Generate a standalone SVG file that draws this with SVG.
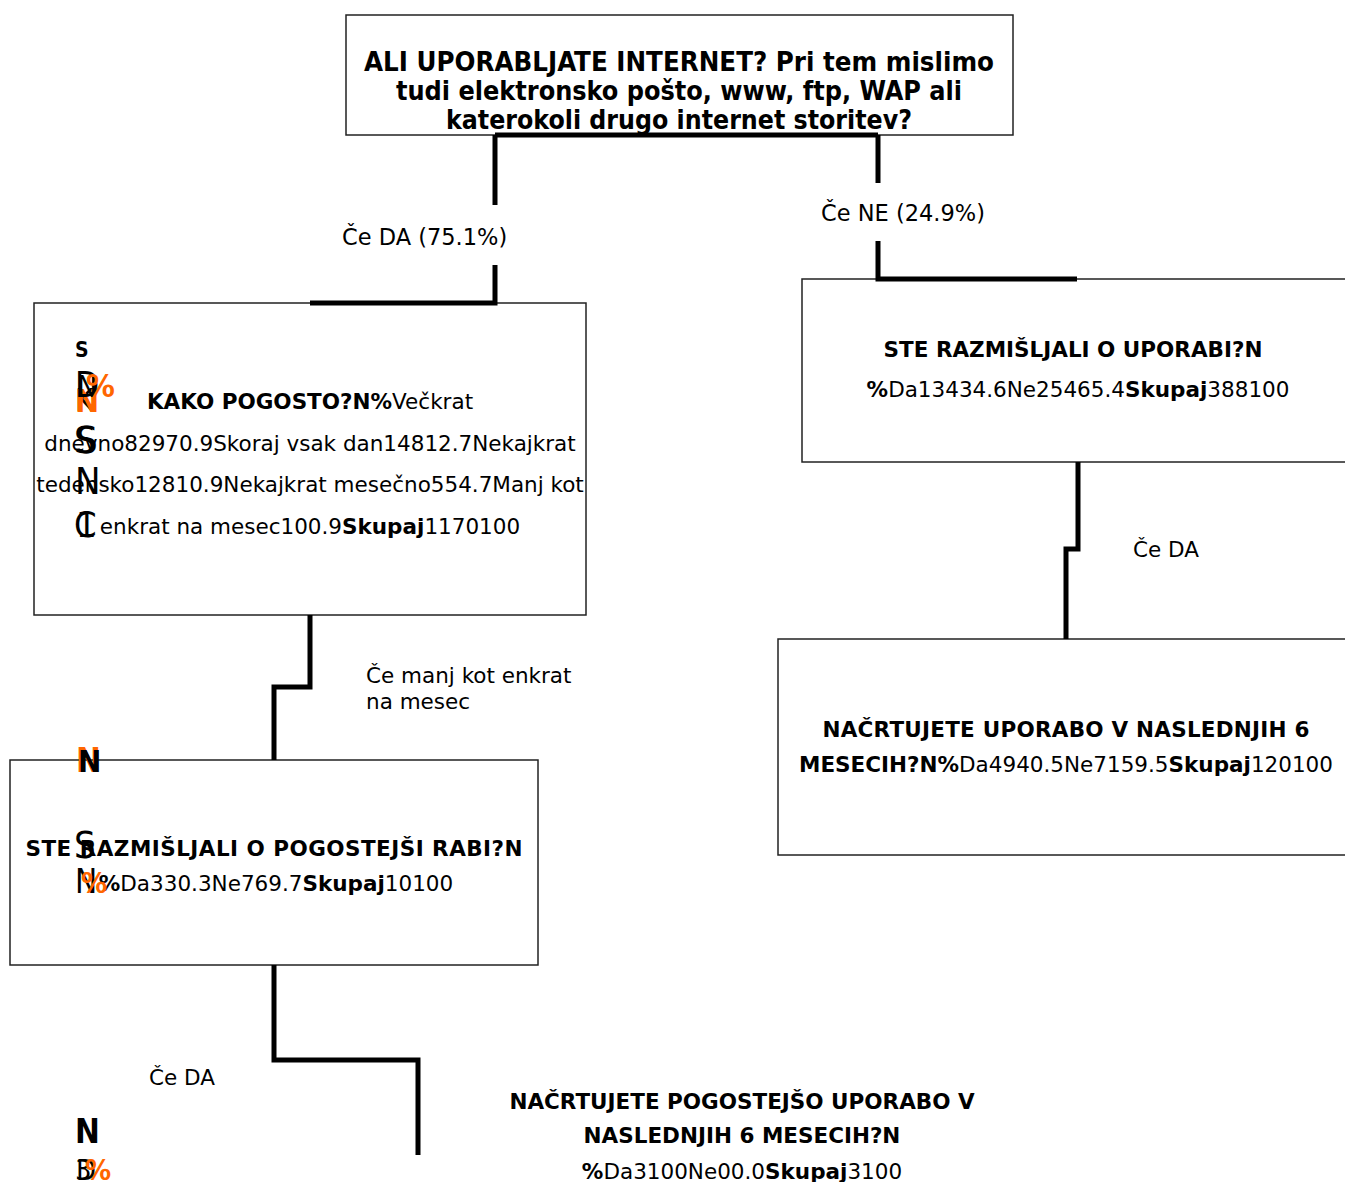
<svg xmlns="http://www.w3.org/2000/svg" width="1345" height="1182" viewBox="0 0 1345 1182">
<style>
.box{fill:#fff;stroke:#222;stroke-width:1.5}
.t{font-family:"DejaVu Sans","Verdana",sans-serif;font-size:21.5px;fill:#000}
.b{font-weight:bold}
.top{font-family:"DejaVu Sans Condensed","DejaVu Sans",sans-serif;font-weight:bold;font-size:26px;fill:#000}
.lbl{font-family:"DejaVu Sans","Verdana",sans-serif;fill:#000}
.g{font-family:"DejaVu Sans Condensed","DejaVu Sans",sans-serif;fill:#000}
.gb{font-family:"DejaVu Sans Condensed","DejaVu Sans",sans-serif;font-weight:bold;fill:#000}
.o{fill:#ff6600}
.c{fill:none;stroke:#000;stroke-width:5}
</style>
<rect width="1345" height="1182" fill="#fff"/>
<g id="n1">
<rect class="box" x="346" y="15" width="667" height="120"/>
<text class="top" text-anchor="middle" x="679" y="71" textLength="630" lengthAdjust="spacingAndGlyphs">ALI UPORABLJATE INTERNET? Pri tem mislimo</text>
<text class="top" text-anchor="middle" x="679" y="100" textLength="566" lengthAdjust="spacingAndGlyphs">tudi elektronsko pošto, www, ftp, WAP ali</text>
<text class="top" text-anchor="middle" x="679" y="129" textLength="466" lengthAdjust="spacingAndGlyphs">katerokoli drugo internet storitev?</text>
</g>
<g id="n3">
<rect class="box" x="34" y="303" width="552" height="312"/>
<text class="t" text-anchor="middle" x="310" y="409"><tspan class="b">KAKO POGOSTO?N%</tspan>Večkrat</text>
<text class="t" text-anchor="middle" x="310" y="451">dnevno82970.9Skoraj vsak dan14812.7Nekajkrat</text>
<text class="t" text-anchor="middle" x="310" y="492">tedensko12810.9Nekajkrat mesečno554.7Manj kot</text>
<text class="t" text-anchor="middle" x="310" y="534">enkrat na mesec100.9<tspan class="b">Skupaj</tspan>1170100</text>
<text class="gb" x="75" y="357" font-size="21">S</text>
<text class="g" x="75" y="411" font-size="32">K</text>
<text class="gb o" x="75" y="412" font-size="32">N</text>
<text class="g" x="75" y="397" font-size="35">D</text>
<text class="g" x="77" y="397" font-size="30">N</text>
<text class="gb o" x="86" y="397" font-size="32">%</text>
<text class="g" x="74" y="453" font-size="38">S</text>
<text class="g" x="76" y="453" font-size="38">S</text>
<text class="g" x="75" y="494" font-size="38">N</text>
<text class="g" x="74" y="537" font-size="36">C</text>
<text class="g" x="76" y="537" font-size="36">1</text>
</g>
<g id="n2">
<rect class="box" x="802" y="279" width="560" height="183"/>
<text class="t b" text-anchor="middle" x="1073" y="357">STE RAZMIŠLJALI O UPORABI?N</text>
<text class="t" text-anchor="middle" x="1078" y="397"><tspan class="b">%</tspan>Da13434.6Ne25465.4<tspan class="b">Skupaj</tspan>388100</text>
</g>
<g id="n4">
<rect class="box" x="778" y="639" width="580" height="216"/>
<text class="t b" text-anchor="middle" x="1066" y="737" textLength="487">NAČRTUJETE UPORABO V NASLEDNJIH 6</text>
<text class="t" text-anchor="middle" x="1066" y="772"><tspan class="b">MESECIH?N%</tspan>Da4940.5Ne7159.5<tspan class="b">Skupaj</tspan>120100</text>
</g>
<g id="n5">
<rect class="box" x="10" y="760" width="528" height="205"/>
<text class="t b" text-anchor="middle" x="274" y="856" textLength="497">STE RAZMIŠLJALI O POGOSTEJŠI RABI?N</text>
<text class="t" text-anchor="middle" x="276" y="891"><tspan class="b">%</tspan>Da330.3Ne769.7<tspan class="b">Skupaj</tspan>10100</text>
<text class="gb o" x="76" y="772" font-size="33">N</text>
<text class="gb" x="78" y="772" font-size="31">N</text>
<text class="g" x="74" y="858" font-size="38">S</text>
<text class="g" x="75" y="893" font-size="33">N</text>
<text class="gb o" x="81" y="893" font-size="29">%</text>
</g>
<g id="n6">
<text class="t b" text-anchor="middle" x="742" y="1109">NAČRTUJETE POGOSTEJŠO UPORABO V</text>
<text class="t b" text-anchor="middle" x="742" y="1143">NASLEDNJIH 6 MESECIH?N</text>
<text class="t" text-anchor="middle" x="742" y="1179"><tspan class="b">%</tspan>Da3100Ne00.0<tspan class="b">Skupaj</tspan>3100</text>
<text class="gb" x="75" y="1143" font-size="33">N</text>
<text class="g" x="75" y="1180" font-size="29">3</text>
<text class="g" x="76" y="1180" font-size="29">D</text>
<text class="gb o" x="85" y="1180" font-size="29">%</text>
</g>
<g id="connectors">
<path class="c" d="M495,135 H878"/>
<path class="c" d="M495,135 V205"/>
<path class="c" d="M495,265 V303 H310"/>
<path class="c" d="M878,135 V183"/>
<path class="c" d="M878,241 V279 H1077"/>
<path class="c" d="M1078,462 V549 H1066 V639"/>
<path class="c" d="M310,615 V687 H274 V760"/>
<path class="c" d="M274,965 V1060 H418 V1155"/>
<text class="lbl" x="342" y="245" style="font-size:22.5px">Če DA (75.1%)</text>
<text class="lbl" x="821" y="221" style="font-size:22.5px">Če NE (24.9%)</text>
<text class="lbl" x="1133" y="557" style="font-size:21.5px">Če DA</text>
<text class="lbl" x="366" y="683" style="font-size:21.5px">Če manj kot enkrat</text>
<text class="lbl" x="366" y="709" style="font-size:21.5px">na mesec</text>
<text class="lbl" x="149" y="1085" style="font-size:21.5px">Če DA</text>
</g>
</svg>
